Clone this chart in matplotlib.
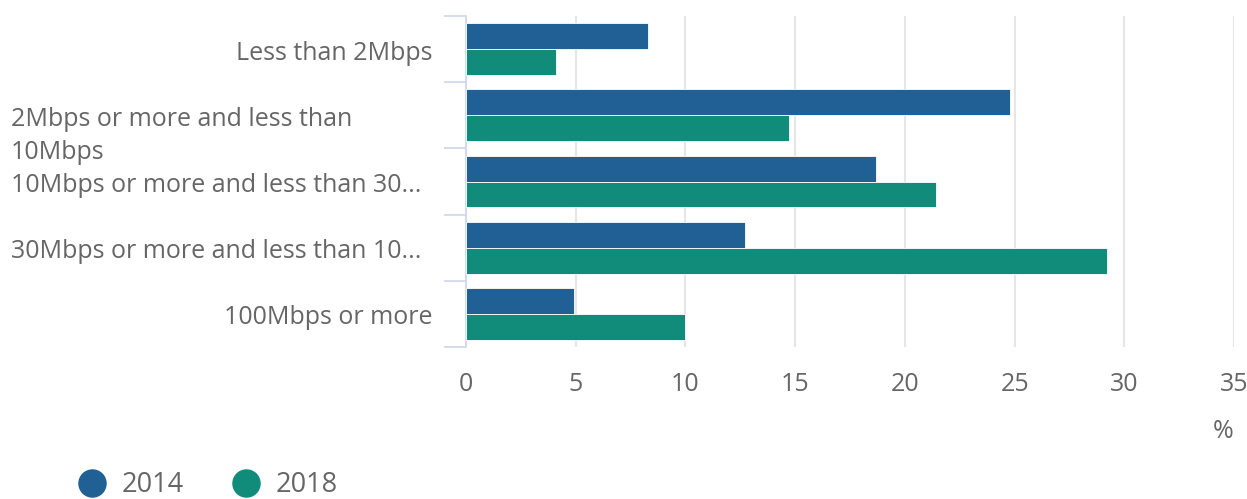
import numpy as np
import matplotlib.pyplot as plt
from matplotlib.lines import Line2D
from matplotlib.transforms import blended_transform_factory

plt.rcParams['font.family'] = ['Open Sans', 'DejaVu Sans']

categories = ['Less than 2Mbps',
              '2Mbps or more and less than\n10Mbps',
              '10Mbps or more and less than 30...',
              '30Mbps or more and less than 10...',
              '100Mbps or more']
# long labels sit flush left, short ones flush right (as in the source)
label_left = [False, True, True, True, False]
vals_2014 = [8.3, 24.8, 18.7, 12.7, 4.9]
vals_2018 = [4.1, 14.7, 21.4, 29.2, 10.0]
series_names = ['2014', '2018']
xticks = [0, 5, 10, 15, 20, 25, 30, 35]

c2014 = '#206095'
c2018 = '#118c7b'
txt = '#666666'
axc = '#ccd6eb'
fs = 18

W, H = 1247, 499
fig = plt.figure(figsize=(W / 100, H / 100), dpi=100)
ax = fig.add_axes([466 / W, 1 - 347 / H, (1234 - 466) / W, (347 - 16) / H])

y = np.arange(len(categories))
bh = 0.39
ax.barh(y - bh / 2, vals_2014, height=bh, color=c2014, edgecolor='white', linewidth=0.6, zorder=3)
ax.barh(y + bh / 2, vals_2018, height=bh, color=c2018, edgecolor='white', linewidth=0.6, zorder=3)

ax.set_xlim(0, 35)
ax.set_ylim(len(categories) - 0.5, -0.5)
ax.set_xticks(xticks)
ax.set_xticklabels([str(t) for t in xticks])
ax.tick_params(axis='x', length=0, pad=18, labelsize=fs, labelcolor=txt)
ax.grid(axis='x', color='#e6e6e6', linewidth=1.5, zorder=0)

ax.set_yticks(np.arange(len(categories) + 1) - 0.5)
ax.set_yticklabels([])
ax.tick_params(axis='y', length=16, width=1.2, color=axc)

for s in ['top', 'right', 'bottom']:
    ax.spines[s].set_visible(False)
ax.spines['left'].set_color(axc)
ax.spines['left'].set_linewidth(1.2)

trans = blended_transform_factory(fig.transFigure, ax.transData)
for i, (lab, left) in enumerate(zip(categories, label_left)):
    if '\n' in lab:
        ax.annotate(lab, xy=(11 / W, i), xycoords=trans, xytext=(0, 8),
                    textcoords='offset pixels', ha='left', va='top',
                    fontsize=fs, color=txt, linespacing=1.4)
    else:
        ax.annotate(lab, xy=((11 if left else 432) / W, i), xycoords=trans,
                    xytext=(0, -4), textcoords='offset pixels',
                    ha='left' if left else 'right', va='center',
                    fontsize=fs, color=txt)

ax.set_xlabel('%', loc='right', fontsize=fs, color=txt, labelpad=16)

handles = [Line2D([], [], marker='o', linestyle='none', markersize=19.5,
                  markerfacecolor=c, markeredgecolor=c) for c in (c2014, c2018)]
fig.legend(handles, series_names, loc='center left',
           bbox_to_anchor=(72.4 / W, 1 - 485 / H), ncol=2, frameon=False,
           fontsize=19.5, labelcolor=txt, handlelength=1.45, handletextpad=0.38,
           columnspacing=1.56, borderpad=0, borderaxespad=0)

fig.savefig('out.png', dpi=100)
